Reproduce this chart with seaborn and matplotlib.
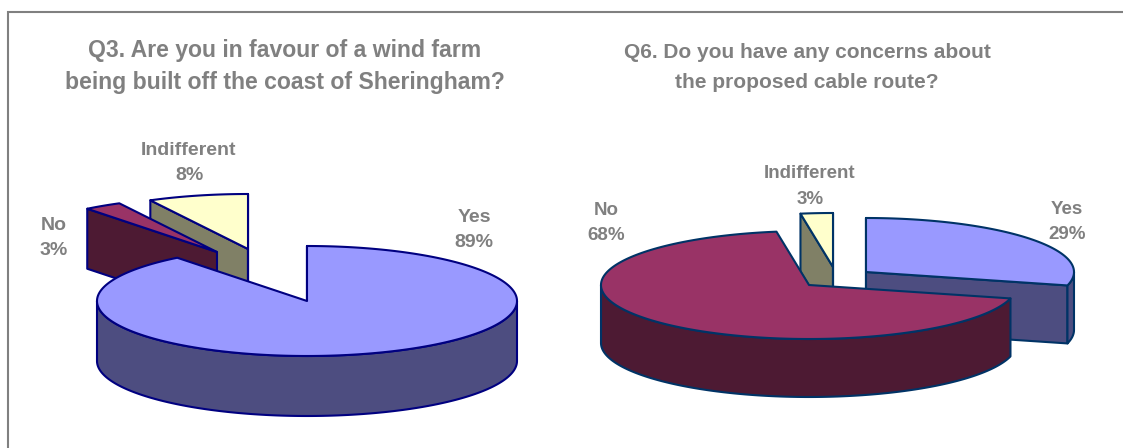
import numpy as np
import matplotlib
matplotlib.use("Agg")
import matplotlib.pyplot as plt
from matplotlib.patches import Polygon
import seaborn as sns

categories = ["Yes", "No", "Indifferent"]
q3_values = [89.4, 2.9, 7.7]
q3_labels = ["89%", "3%", "8%"]
q6_values = [29.0, 68.5, 2.5]
q6_labels = ["29%", "68%", "3%"]
q3_title = "Q3. Are you in favour of a wind farm\nbeing built off the coast of Sheringham?"
q6_title = "Q6. Do you have any concerns about\nthe proposed cable route?"

top_colors = sns.color_palette(["#9999FF", "#993366", "#FFFFCC"])
side_colors = sns.color_palette(["#4D4D80", "#4D1A33", "#808066"])
grey = "#808080"

sns.set_theme(style="white")
plt.rcParams["font.family"] = ["Liberation Sans", "DejaVu Sans"]

fig, ax = plt.subplots(figsize=(11.23, 4.48), dpi=100)
fig.subplots_adjust(0, 0, 1, 1)
ax.set_xlim(0, 1123)
ax.set_ylim(448, 0)
ax.axis("off")
sns.despine(ax=ax, left=True, bottom=True)


def ring(cx, cy, rx, ry, a0, a1):
    # angles in degrees clockwise from 12 o'clock, y points down
    n = max(2, int(abs(a1 - a0)) + 2)
    t = np.radians(np.linspace(a0, a1, n))
    return np.column_stack([cx + rx * np.sin(t), cy - ry * np.cos(t)])


def slice3d(cx, cy, a0, a1, color, side, rx, ry, depth, edge):
    lw = 1.5
    down = np.array([0, depth])
    arc = ring(cx, cy, rx, ry, a0, a1)
    apex = np.array([cx, cy])
    # only the cut faces that turn towards the viewer
    if np.sin(np.radians(a0)) < 1e-6:
        ax.add_patch(Polygon([apex, arc[0], arc[0] + down, apex + down], fc=side, ec=edge, lw=lw, joinstyle="round"))
    if np.sin(np.radians(a1)) > -1e-6:
        ax.add_patch(Polygon([apex, arc[-1], arc[-1] + down, apex + down], fc=side, ec=edge, lw=lw, joinstyle="round"))
    w0, w1 = max(a0, 90), min(a1, 270)
    if w1 > w0:
        wall = ring(cx, cy, rx, ry, w0, w1)
        ax.add_patch(Polygon(np.vstack([wall, wall[::-1] + down]), fc=side, ec=edge, lw=lw, joinstyle="round"))
    ax.add_patch(Polygon(np.vstack([apex, arc]), fc=color, ec=edge, lw=lw, joinstyle="round"))


def pie3d(values, centers, order, rx, ry, depth, edge):
    ends = np.cumsum(values) * 3.6
    starts = ends - np.array(values) * 3.6
    for i in order:
        slice3d(*centers[i], starts[i], ends[i], top_colors[i], side_colors[i], rx, ry, depth, edge)


# the frame only shows along the top and the left
ax.plot([8, 8, 1123], [448, 12, 12], color=grey, lw=1.5, solid_joinstyle="miter")

pie3d(q3_values, [(307, 301), (217, 252), (248, 249)], [2, 1, 0], 210, 55, 60, "#000080")
pie3d(q6_values, [(866, 272), (809, 285), (833, 267)], [2, 0, 1], 208, 54, 58, "#003366")

text_style = dict(ha="center", va="center", color=grey, fontweight="bold")
ax.text(285, 66.5, q3_title, fontsize=16.6, linespacing=1.46, **text_style)
ax.text(807, 67.5, q6_title, fontsize=15, linespacing=1.78, **text_style)

q3_pos = [(474, 230), (54, 238), (189, 163)]
q6_pos = [(1067, 222), (606, 223), (810, 186.5)]
for name, pct, pos in zip(categories, q3_labels, q3_pos):
    ax.text(*pos, f"{name}\n{pct}", fontsize=14, linespacing=1.67, **text_style)
for name, pct, pos in zip(categories, q6_labels, q6_pos):
    ax.text(*pos, f"{name}\n{pct}", fontsize=13.5, linespacing=1.67, **text_style)

fig.savefig("out.png", dpi=100, facecolor="white")
